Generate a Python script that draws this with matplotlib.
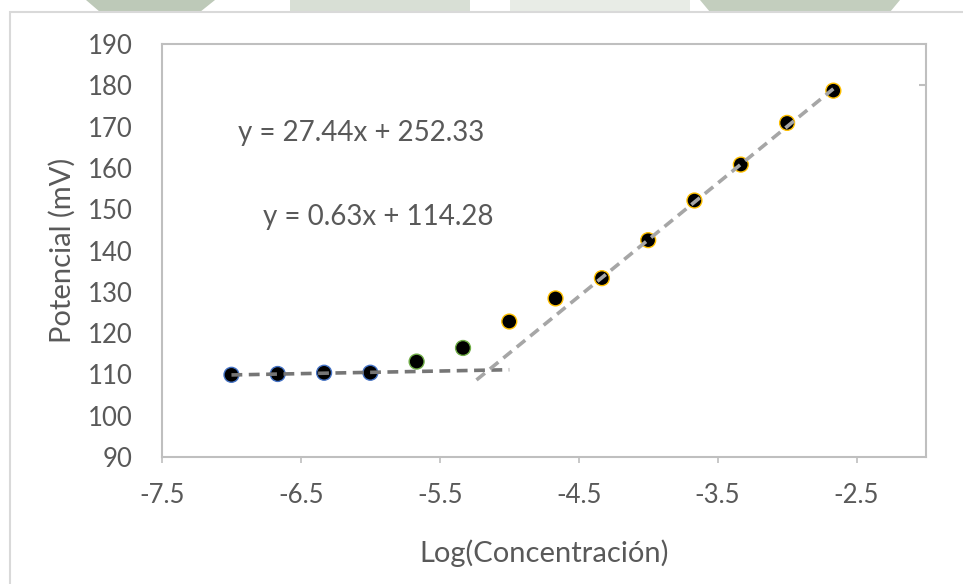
import matplotlib
matplotlib.use("Agg")
import matplotlib.pyplot as plt
from matplotlib.patches import Rectangle, Polygon

plt.rcParams["font.family"] = ["Lato", "DejaVu Sans"]

# ── Calibration data: potential vs log(concentration) ─────────────────────────
log_conc = [-7.0, -6.667, -6.333, -6.0, -5.667, -5.333, -5.0,
            -4.667, -4.333, -4.0, -3.667, -3.333, -3.0, -2.667]
potential = [109.9, 110.1, 110.4, 110.4, 113.1, 116.4, 122.8,
             128.4, 133.3, 142.5, 152.1, 160.8, 170.9, 178.7]
edge_colors = ["#4472c4"] * 4 + ["#70ad47"] * 2 + ["#ffc000"] * 8

# linear fits (slope, intercept) and the x span each trendline is drawn over
low_fit = (0.63, 114.28)
low_span = (-7.0, -5.0)
high_fit = (27.44, 252.33)
high_span = (-5.236, -2.667)

x_ticks = [-7.5, -6.5, -5.5, -4.5, -3.5, -2.5]
y_ticks = list(range(90, 191, 10))

GRID = "#bfbfbf"
TXT = "#595959"

fig = plt.figure(figsize=(9.63, 5.84), dpi=100)
fig.patch.set_facecolor("white")

# faint background strip above the chart frame
for pts, col in [
    ([(86, 0), (215, 0), (200, 12), (100, 12)], "#bdc9b8"),
    ([(290, 0), (470, 0), (470, 12), (290, 12)], "#d8dfd5"),
    ([(510, 0), (690, 0), (690, 12), (510, 12)], "#e8ece6"),
    ([(700, 0), (900, 0), (890, 12), (710, 12)], "#c3cebe"),
]:
    fig.patches.append(Polygon([(x / 963, 1 - y / 584) for x, y in pts],
                               closed=True, transform=fig.transFigure,
                               facecolor=col, edgecolor="none", zorder=-2))

# chart frame
fig.patches.append(Rectangle((10 / 963, -0.05), 1.0, 1.05 - 12 / 584,
                             transform=fig.transFigure, facecolor="white",
                             edgecolor="#d9d9d9", lw=1.5, zorder=-1))

ax = fig.add_axes([162 / 963, 127 / 584, 764 / 963, 413 / 584])
ax.set_facecolor("white")
ax.set_zorder(2)

# trendlines
xs = list(low_span)
ax.plot(xs, [low_fit[0] * x + low_fit[1] for x in xs], color="#767676",
        lw=2.6, dashes=(3.0, 1.8), zorder=3)
xs = list(high_span)
ax.plot(xs, [high_fit[0] * x + high_fit[1] for x in xs], color="#a6a6a6",
        lw=2.6, dashes=(3.0, 1.8), zorder=3)

ax.scatter(log_conc, potential, s=115, c="black", edgecolors=edge_colors,
           linewidths=1.0, zorder=2)

ax.text(-6.953, 168.4, f"y = {high_fit[0]:.2f}x + {high_fit[1]:.2f}",
        fontsize=20, color=TXT, va="center", ha="left")
ax.text(-6.773, 148.1, f"y = {low_fit[0]:.2f}x + {low_fit[1]:.2f}",
        fontsize=20, color=TXT, va="center", ha="left")

ax.set_xlim(-7.5, -2.0)
ax.set_ylim(90, 190)
ax.set_xticks(x_ticks)
ax.set_xticklabels([f"{t:g}" for t in x_ticks])
ax.set_yticks(y_ticks)

for sp in ax.spines.values():
    sp.set_color(GRID)
    sp.set_linewidth(1.5)

ax.tick_params(axis="x", direction="out", length=4, width=1.2, color=GRID,
               labelsize=18.5, labelcolor=TXT, pad=15)
ax.tick_params(axis="y", length=0, labelsize=18.5, labelcolor=TXT, pad=21)

ax.set_xlabel("Log(Concentración)", fontsize=21, color=TXT)
ax.xaxis.set_label_coords(0.5, -0.2)
ax.set_ylabel("Potencial (mV)", fontsize=21, color=TXT)
ax.yaxis.set_label_coords(-0.113, 0.5)

# small inward mark on the right-hand border
ax_r = ax.twinx()
ax_r.set_ylim(90, 190)
ax_r.set_yticks([180])
ax_r.tick_params(axis="y", direction="in", length=5, width=1.5, color=GRID,
                 labelright=False)
for sp in ax_r.spines.values():
    sp.set_visible(False)

fig.savefig("out.png", dpi=100, facecolor=fig.get_facecolor())
